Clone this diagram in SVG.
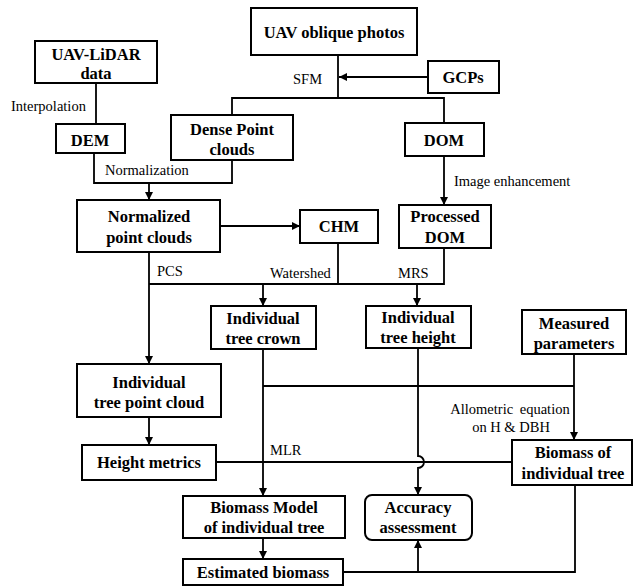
<svg xmlns="http://www.w3.org/2000/svg" width="634" height="587" viewBox="0 0 634 587">
<style>
.b{fill:#fff;stroke:#000;stroke-width:2}
.t{font-family:'Liberation Serif',serif;font-weight:bold;font-size:16.5px;text-anchor:middle;fill:#000}
.l{font-family:'Liberation Serif',serif;font-size:14.5px;fill:#000}
.c{fill:none;stroke:#000;stroke-width:1.8}
.a{marker-end:url(#ah)}
</style>
<defs>
<marker id="ah" viewBox="0 0 10 10" refX="10" refY="5" markerWidth="4.5" markerHeight="4.5" orient="auto" markerUnits="strokeWidth">
<path d="M0,0 L10,5 L0,10 z" fill="#000"/>
</marker>
</defs>
<rect width="634" height="587" fill="#fff"/>
<g id="connectors">
<path class="c" d="M96 83 V124"/>
<path class="c" d="M338 55 V98"/>
<path class="c a" d="M428 77 H339"/>
<path class="c" d="M232 115 V98 H444 V123"/>
<path class="c" d="M94 153 V183 H232 V160"/>
<path class="c a" d="M149 183 V200"/>
<path class="c a" d="M444 156 V205"/>
<path class="c a" d="M220 226 H300"/>
<path class="c" d="M338 243 V284"/>
<path class="c" d="M444 248 V284 H149"/>
<path class="c a" d="M149 252 V364"/>
<path class="c a" d="M263 284 V306"/>
<path class="c a" d="M417 284 V306"/>
<path class="c a" d="M149 417 V445"/>
<path class="c a" d="M263 349 V496"/>
<path class="c" d="M263 386 H574"/>
<path class="c a" d="M574 354 V440"/>
<path class="c" d="M216 462 H512"/>
<path class="c a" d="M418 348 V456 A6 6 0 0 1 418 468 V495"/>
<path class="c a" d="M263 538 V559"/>
<path class="c" d="M343 572 H575 V485"/>
<path class="c a" d="M418 572 V540"/>
<g font-family="Liberation Serif, serif" font-size="14.5">
<text class="l" x="11" y="111">Interpolation</text>
<text class="l" x="293" y="84">SFM</text>
<text class="l" x="105" y="175">Normalization</text>
<text class="l" x="454" y="186">Image enhancement</text>
<text class="l" x="157" y="276">PCS</text>
<text class="l" x="270" y="278">Watershed</text>
<text class="l" x="398" y="278">MRS</text>
<text class="l" x="270" y="455">MLR</text>
<text class="l" x="510" y="414" text-anchor="middle" word-spacing="3">Allometric equation</text>
<text class="l" x="511" y="432" text-anchor="middle">on H &amp; DBH</text>
</g>
</g>
<g id="uav-lidar"><rect class="b" x="35" y="41" width="122" height="42"/><text class="t" x="96" y="60">UAV-LiDAR</text><text class="t" x="96" y="79">data</text></g>
<g id="uav-photos"><rect class="b" x="251" y="8" width="166" height="47"/><text class="t" x="334" y="38">UAV oblique photos</text></g>
<g id="gcps"><rect class="b" x="428" y="61" width="71" height="32"/><text class="t" x="463" y="83">GCPs</text></g>
<g id="dem"><rect class="b" x="56" y="124" width="69" height="29"/><text class="t" x="90" y="146">DEM</text></g>
<g id="dense"><rect class="b" x="171" y="115" width="122" height="45"/><text class="t" x="232" y="135">Dense Point</text><text class="t" x="232" y="155">clouds</text></g>
<g id="dom"><rect class="b" x="405" y="123" width="79" height="33"/><text class="t" x="444" y="146">DOM</text></g>
<g id="normalized"><rect class="b" x="77" y="200" width="143" height="52"/><text class="t" x="149" y="222">Normalized</text><text class="t" x="149" y="243">point clouds</text></g>
<g id="chm"><rect class="b" x="300" y="210" width="78" height="33"/><text class="t" x="339" y="232">CHM</text></g>
<g id="processed-dom"><rect class="b" x="399" y="205" width="92" height="43"/><text class="t" x="445" y="222">Processed</text><text class="t" x="445" y="243">DOM</text></g>
<g id="crown"><rect class="b" x="211" y="306" width="105" height="43"/><text class="t" x="263" y="324">Individual</text><text class="t" x="263" y="344">tree crown</text></g>
<g id="height"><rect class="b" x="366" y="306" width="105" height="42"/><text class="t" x="418" y="323">Individual</text><text class="t" x="418" y="343">tree height</text></g>
<g id="measured"><rect class="b" x="522" y="310" width="104" height="44"/><text class="t" x="574" y="329">Measured</text><text class="t" x="574" y="349">parameters</text></g>
<g id="tree-point-cloud"><rect class="b" x="77" y="364" width="144" height="53"/><text class="t" x="149" y="388">Individual</text><text class="t" x="149" y="408">tree point cloud</text></g>
<g id="height-metrics"><rect class="b" x="82" y="445" width="134" height="35"/><text class="t" x="149" y="468">Height metrics</text></g>
<g id="biomass-tree"><rect class="b" x="512" y="440" width="120" height="45"/><text class="t" x="573" y="458">Biomass of</text><text class="t" x="573" y="479">individual tree</text></g>
<g id="biomass-model"><rect class="b" x="183" y="496" width="162" height="42"/><text class="t" x="264" y="513">Biomass Model</text><text class="t" x="264" y="533">of individual tree</text></g>
<g id="accuracy"><rect class="b" x="365" y="495" width="107" height="45" rx="7"/><text class="t" x="418" y="513">Accuracy</text><text class="t" x="418" y="533">assessment</text></g>
<g id="estimated"><rect class="b" x="183" y="559" width="160" height="26"/><text class="t" x="263" y="578">Estimated biomass</text></g>
</svg>
